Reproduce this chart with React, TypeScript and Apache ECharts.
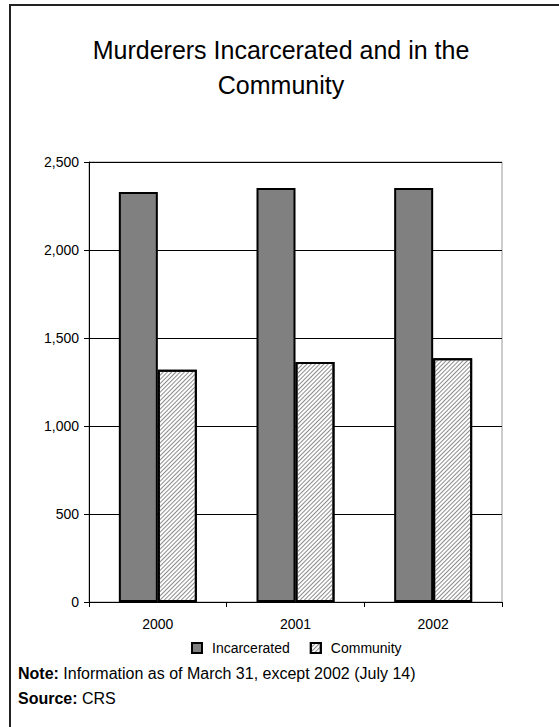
import React, { useEffect, useRef } from "react";
import * as echarts from "echarts";

// Chart data
const years = ["2000", "2001", "2002"];
const incarcerated = [2330, 2352, 2352];
const community = [1320, 1364, 1385];
const seriesNames = ["Incarcerated", "Community"];
const yTicks = { min: 0, max: 2500, interval: 500 };

const titleText = "Murderers Incarcerated and in the\nCommunity";
const noteText = "Information as of March 31, except 2002 (July 14)";
const sourceText = "CRS";

const FONT = "Liberation Sans, Arial, sans-serif";

export default function App() {
  const ref = useRef<HTMLDivElement>(null);

  useEffect(() => {
    document.body.style.margin = "0";
    const chart = echarts.init(ref.current!, null, { renderer: "svg" });

    // fine diagonal hatching for the Community bars
    const hatch = {
      symbol: "rect",
      symbolSize: 1,
      color: "#8c8c8c",
      dashArrayX: [1, 0],
      dashArrayY: [1, 1.1],
      rotation: -Math.PI / 4,
      backgroundColor: "#ffffff",
    };

    chart.setOption({
      animation: false,
      backgroundColor: "#ffffff",
      title: {
        text: titleText,
        left: 276,
        textAlign: "center",
        top: 27,
        textStyle: {
          fontFamily: FONT,
          fontSize: 25,
          fontWeight: "normal",
          color: "#000",
          lineHeight: 35,
        },
      },
      grid: {
        left: 89,
        right: 57,
        top: 162,
        bottom: 125,
        show: true,
        borderColor: "#9a9a9a",
        borderWidth: 1,
        backgroundColor: "transparent",
      },
      legend: {
        left: 186,
        top: 636,
        itemWidth: 10,
        itemHeight: 10,
        itemGap: 20,
        icon: "rect",
        selectedMode: false,
        textStyle: {
          fontFamily: FONT,
          fontSize: 14,
          color: "#000",
          padding: [0, 0, 0, 5],
        },
        data: seriesNames,
      },
      xAxis: {
        type: "category",
        data: years,
        axisLine: { show: true, lineStyle: { color: "#000", width: 1 } },
        axisTick: { show: true, length: 5, alignWithLabel: false, lineStyle: { color: "#000" } },
        axisLabel: { fontFamily: FONT, fontSize: 14, color: "#000", margin: 15 },
        splitLine: { show: false },
      },
      yAxis: {
        type: "value",
        min: yTicks.min,
        max: yTicks.max,
        interval: yTicks.interval,
        axisLine: { show: true, lineStyle: { color: "#000", width: 1 } },
        axisTick: { show: true, length: 5, lineStyle: { color: "#000" } },
        axisLabel: {
          fontFamily: FONT,
          fontSize: 14,
          color: "#000",
          margin: 10,
          formatter: (v: number) => v.toLocaleString("en-US"),
        },
        splitLine: { show: true, lineStyle: { color: "#000", width: 1 } },
      },
      series: [
        {
          name: seriesNames[0],
          type: "bar",
          data: incarcerated,
          barWidth: 39,
          barGap: "0%",
          itemStyle: { color: "#808080", borderColor: "#000", borderWidth: 2 },
        },
        {
          name: seriesNames[1],
          type: "bar",
          data: community,
          barWidth: 39,
          barGap: "0%",
          itemStyle: { color: "#ffffff", borderColor: "#000", borderWidth: 2, decal: hatch },
        },
      ],
      graphic: [
        {
          type: "rect",
          shape: { x: 10, y: 5, width: 700, height: 900 },
          style: { fill: "none", stroke: "#222", lineWidth: 2 },
          silent: true,
        },
        {
          type: "text",
          left: 18,
          top: 661,
          style: {
            text: "{b|Note:} " + noteText + "\n{b|Source:} " + sourceText,
            font: `16px ${FONT}`,
            fill: "#000",
            lineHeight: 25,
            rich: {
              b: { fontWeight: "bold", fontFamily: FONT, fontSize: 16, fill: "#000" },
            },
          },
        },
      ],
    });

    return () => chart.dispose();
  }, []);

  return (
    <div
      ref={ref}
      style={{ position: "fixed", left: 0, top: 0, width: 559, height: 727 }}
    />
  );
}
